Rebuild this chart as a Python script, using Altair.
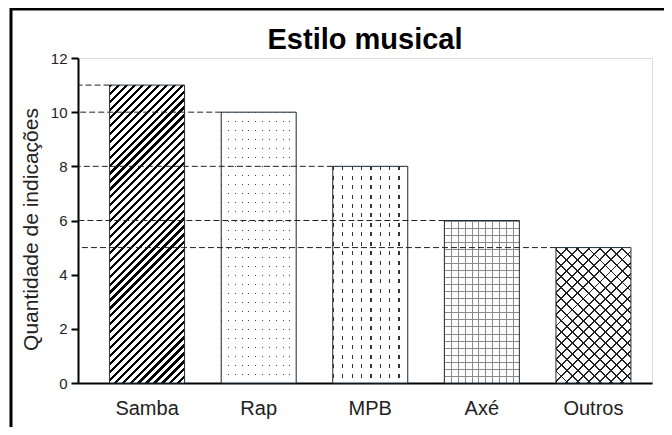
import math
import altair as alt
import pandas as pd

# ---- data ----
categories = ["Samba", "Rap", "MPB", "Axé", "Outros"]
values = [11, 10, 8, 6, 5]
chart_title = "Estilo musical"
y_title = "Quantidade de indicações"

df = pd.DataFrame({"estilo": categories, "qtd": values})

# ---- layout constants (styles only) ----
W_PLOT, H_PLOT = 574, 325
Y_MAX = 12
PAD_IN, PAD_OUT, ALIGN = 0.328, 0.236, 0.6
STEP = W_PLOT / (len(categories) - PAD_IN + 2 * PAD_OUT)
BAND = STEP * (1 - PAD_IN)
PX = H_PLOT / Y_MAX
FONT = "Liberation Sans"
CLEAR_W = "rgba(255,255,255,0)"
CLEAR_K = "rgba(0,0,0,0)"


def stripes(n, frac, ink, paper, x1, y1, x2, y2):
    stops = []
    for i in range(n):
        a, b, c = i / n, (i + frac) / n, (i + 1) / n
        stops += [
            alt.GradientStop(offset=a, color=ink),
            alt.GradientStop(offset=b, color=ink),
            alt.GradientStop(offset=b, color=paper),
            alt.GradientStop(offset=min(c, 1.0), color=paper),
        ]
    return alt.LinearGradient(gradient="linear", stops=stops,
                              x1=x1, y1=y1, x2=x2, y2=y2)


def diag(value, period, width, ink, paper, direction="/"):
    w, h = BAND, value * PX
    s = (w + h) / (w * w + h * h)
    n = max(1, round((w + h) / math.sqrt(2) / period))
    frac = width / period
    if direction == "/":
        return stripes(n, frac, ink, paper, 0, 0, w * s, h * s)
    return stripes(n, frac, ink, paper, 0, 1, w * s, 1 - h * s)


def vert(period, width, ink, paper):
    n = max(1, round(BAND / period))
    return stripes(n, width / period, ink, paper, 0, 0, 1, 0)


def horiz(value, period, width, ink, paper):
    h = value * PX
    n = max(1, round(h / period))
    return stripes(n, width / period, ink, paper, 0, 0, 0, 1)


vals = dict(zip(categories, values))

x_scale = alt.Scale(domain=categories, paddingInner=PAD_IN,
                    paddingOuter=PAD_OUT, align=ALIGN)
x_enc = alt.X("estilo:N", scale=x_scale,
              axis=alt.Axis(title=None, labelAngle=0, ticks=False, tickSize=0,
                            domainColor="black", domainWidth=2,
                            labelFontSize=20, labelColor="#222",
                            labelPadding=15, labelFont=FONT, grid=False))
y_enc = alt.Y("qtd:Q",
              scale=alt.Scale(domain=[0, Y_MAX], nice=False),
              axis=alt.Axis(values=list(range(0, 13, 2)), grid=False,
                            domainColor="black", domainWidth=2,
                            tickColor="black", tickWidth=2, tickSize=7,
                            labelFontSize=15, labelColor="#222",
                            labelPadding=4, labelFont=FONT,
                            title=y_title,
                            titleFontSize=21, titleFontWeight="normal",
                            titleColor="#222", titleFont=FONT,
                            titleAngle=270, titleBaseline="alphabetic",
                            titleAlign="center", titleX=-41, titleY=171))

base = alt.Chart(df).encode(x=x_enc, y=y_enc)


def bar(cat, fill):
    return base.transform_filter(alt.datum.estilo == cat).mark_bar(fill=fill)


layers = []
# Samba: diagonal hatching
layers.append(bar("Samba", diag(vals["Samba"], 5.66, 2.3, "black", "white")))
# Rap: sparse dots
layers.append(bar("Rap", "#444"))
layers.append(bar("Rap", vert(6.7, 1.0, CLEAR_W, "white")))
layers.append(bar("Rap", horiz(vals["Rap"], 9.0, 1.0, CLEAR_W, "white")))
# MPB: short vertical dashes
layers.append(bar("MPB", "#333"))
layers.append(bar("MPB", vert(9.0, 1.2, CLEAR_W, "white")))
layers.append(bar("MPB", horiz(vals["MPB"], 9.5, 4.0, CLEAR_W, "white")))
# Axé: light grid
layers.append(bar("Axé", "white"))
layers.append(bar("Axé", vert(7.0, 1.0, "#8a8a8a", CLEAR_K)))
layers.append(bar("Axé", horiz(vals["Axé"], 7.0, 1.0, "#8a8a8a", CLEAR_K)))
# Outros: cross hatching
layers.append(bar("Outros", "white"))
layers.append(bar("Outros", diag(vals["Outros"], 8.0, 1.4, "#222", CLEAR_K, "/")))
layers.append(bar("Outros", diag(vals["Outros"], 8.0, 1.4, "#222", CLEAR_K, "\\")))

# bar outlines
outline = base.mark_bar(fillOpacity=0, stroke="#1d2f3d", strokeWidth=1)

# dashed reference lines from the axis to each bar
rules = alt.Chart(df).mark_rule(strokeDash=[6, 3], color="#222",
                                strokeWidth=1).encode(
    x=alt.X("estilo:N", bandPosition=0, scale=x_scale),
    x2=alt.value(0),
    y="qtd:Q",
)

# chart title as a text mark above the plot
title = alt.Chart(alt.Data(values=[{"t": chart_title}])).mark_text(
    font=FONT, fontSize=29, fontWeight="bold", color="black",
    align="center", baseline="alphabetic"
).encode(x=alt.value(W_PLOT / 2), y=alt.value(-9), text="t:N")

# outer frame
frame = alt.Chart(alt.Data(values=[{}])).mark_rect(
    fillOpacity=0, stroke="black", strokeWidth=3
).encode(x=alt.value(-67), x2=alt.value(900),
         y=alt.value(-49), y2=alt.value(700))

chart = alt.layer(*layers, outline, rules, title, frame).properties(
    width=W_PLOT, height=H_PLOT,
    autosize=alt.AutoSizeParams(type="none"),
    padding={"left": 70, "top": 50, "right": 12, "bottom": 44},
).configure_view(stroke=None).configure(font=FONT)

chart.save("out.html", embed_options={"renderer": "svg", "actions": False})
